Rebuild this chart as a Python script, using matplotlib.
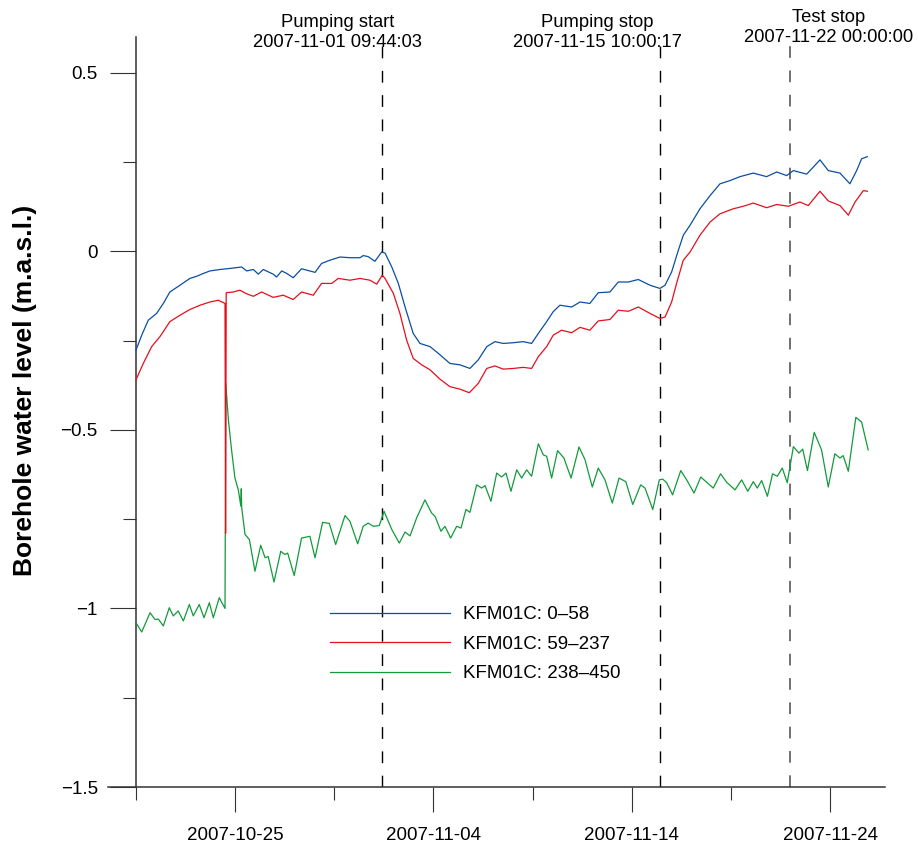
import matplotlib
matplotlib.use('Agg')
import matplotlib.pyplot as plt
import matplotlib.dates as mdates
import matplotlib.ticker as mticker
import matplotlib.transforms as mtransforms
import numpy as np
import pandas as pd

plt.rcParams['font.family'] = ['Liberation Sans', 'DejaVu Sans']

# time axis: days since 2007-10-20 00:00
t_start = pd.Timestamp('2007-10-20 00:00:00')

# KFM01C section 0-58
blue_days = [0.00, 0.29, 0.62, 1.04, 1.38, 1.71, 2.22, 2.72, 3.06, 3.31, 3.73, 4.24,
             4.74, 5.33, 5.58, 5.92, 6.17, 6.42, 6.92, 7.09, 7.35, 7.60, 7.93, 8.35,
             9.03, 9.36, 9.78, 10.29, 10.79, 11.30, 11.46, 11.71, 12.05, 12.39, 12.56,
             12.90, 13.23, 13.57, 13.98, 14.32, 14.83, 15.25, 15.83, 16.34, 16.84,
             17.26, 17.69, 18.10, 18.52, 19.03, 19.53, 19.95, 20.29, 20.71, 21.04,
             21.38, 21.97, 22.39, 22.89, 23.31, 23.90, 24.32, 24.83, 25.33, 25.92,
             26.42, 26.68, 27.01, 27.35, 27.60, 27.94, 28.44, 28.95, 29.45, 29.96,
             30.46, 31.13, 31.80, 32.31, 32.81, 33.15, 33.82, 34.16, 34.49, 34.91,
             35.50, 36.00, 36.34, 36.59, 36.88]
blue_level = [-0.277, -0.235, -0.193, -0.174, -0.146, -0.114, -0.095, -0.076, -0.070,
              -0.064, -0.055, -0.051, -0.048, -0.044, -0.055, -0.051, -0.064, -0.051,
              -0.064, -0.072, -0.055, -0.062, -0.074, -0.049, -0.059, -0.034, -0.025,
              -0.016, -0.018, -0.018, -0.012, -0.015, -0.028, -0.002, -0.005, -0.044,
              -0.090, -0.156, -0.230, -0.258, -0.267, -0.286, -0.314, -0.318, -0.328,
              -0.304, -0.267, -0.253, -0.258, -0.256, -0.253, -0.258, -0.230, -0.197,
              -0.169, -0.151, -0.156, -0.142, -0.146, -0.116, -0.114, -0.086, -0.086,
              -0.079, -0.095, -0.104, -0.095, -0.058, 0.003, 0.045, 0.073, 0.119,
              0.156, 0.189, 0.198, 0.209, 0.219, 0.209, 0.222, 0.212, 0.226, 0.216,
              0.236, 0.256, 0.226, 0.219, 0.189, 0.226, 0.259, 0.265]

# KFM01C section 59-237
red_days = [0.00, 0.37, 0.79, 1.21, 1.71, 2.22, 2.72, 3.23, 3.73, 4.15, 4.49, 4.52,
            4.55, 4.91, 5.24, 5.58, 5.92, 6.34, 6.92, 7.43, 7.93, 8.35, 8.94, 9.36,
            9.87, 10.20, 10.79, 11.30, 11.80, 12.14, 12.42, 12.56, 12.98, 13.31,
            13.65, 13.98, 14.41, 14.83, 15.33, 15.83, 16.34, 16.81, 17.26, 17.69,
            18.10, 18.52, 19.03, 19.53, 19.95, 20.29, 20.71, 21.04, 21.46, 21.97,
            22.39, 22.89, 23.31, 23.90, 24.32, 24.83, 25.33, 25.92, 26.42, 26.68,
            27.01, 27.26, 27.60, 27.94, 28.44, 28.95, 29.45, 30.12, 30.62, 31.13,
            31.80, 32.31, 32.90, 33.48, 33.90, 34.49, 34.91, 35.50, 35.92, 36.26,
            36.68, 36.88]
red_level = [-0.360, -0.314, -0.267, -0.239, -0.197, -0.179, -0.163, -0.151, -0.142,
             -0.137, -0.146, -0.790, -0.116, -0.114, -0.109, -0.119, -0.126, -0.114,
             -0.129, -0.123, -0.135, -0.114, -0.123, -0.090, -0.090, -0.076, -0.081,
             -0.076, -0.081, -0.092, -0.067, -0.076, -0.118, -0.174, -0.249, -0.300,
             -0.318, -0.332, -0.358, -0.379, -0.386, -0.396, -0.370, -0.328, -0.321,
             -0.330, -0.328, -0.325, -0.328, -0.295, -0.267, -0.235, -0.221, -0.228,
             -0.213, -0.221, -0.195, -0.191, -0.165, -0.168, -0.156, -0.174, -0.188,
             -0.184, -0.142, -0.090, -0.025, -0.002, 0.045, 0.082, 0.105, 0.119,
             0.126, 0.135, 0.122, 0.131, 0.126, 0.138, 0.128, 0.168, 0.141, 0.128,
             0.101, 0.138, 0.170, 0.168]

# KFM01C section 238-450
green_days = [0.00, 0.29, 0.71, 0.96, 1.13, 1.38, 1.68, 1.88, 2.13, 2.39, 2.69, 2.89,
              3.19, 3.43, 3.70, 3.90, 4.20, 4.49, 4.53, 4.66, 4.82, 4.99, 5.16, 5.29,
              5.31, 5.33, 5.50, 5.72, 6.00, 6.29, 6.51, 6.67, 6.96, 7.30, 7.51, 7.65,
              7.98, 8.35, 8.77, 9.03, 9.41, 9.75, 10.07, 10.54, 10.79, 11.18, 11.46,
              11.71, 11.97, 12.27, 12.51, 12.90, 13.28, 13.57, 13.82, 14.15, 14.57,
              14.91, 15.08, 15.38, 15.58, 15.87, 16.17, 16.39, 16.64, 16.84, 17.18,
              17.43, 17.60, 17.90, 18.19, 18.44, 18.66, 18.91, 19.20, 19.45, 19.70,
              19.95, 20.29, 20.54, 20.71, 20.96, 21.26, 21.58, 21.94, 22.34, 22.64,
              23.01, 23.31, 23.65, 24.02, 24.36, 24.70, 25.05, 25.45, 25.67, 26.06,
              26.39, 26.56, 26.76, 27.06, 27.47, 27.77, 28.14, 28.48, 28.74, 29.11,
              29.48, 29.79, 30.21, 30.54, 30.85, 31.13, 31.33, 31.55, 31.84, 32.10,
              32.34, 32.59, 32.84, 33.15, 33.43, 33.62, 33.86, 34.20, 34.57, 34.91,
              35.24, 35.50, 35.66, 35.92, 36.30, 36.59, 36.92]
green_level = [-1.040, -1.066, -1.012, -1.031, -1.030, -1.049, -0.998, -1.021, -1.007,
               -1.035, -0.989, -1.021, -0.989, -1.026, -0.984, -1.026, -0.970, -1.000,
               -0.370, -0.472, -0.556, -0.635, -0.668, -0.714, -0.665, -0.717, -0.793,
               -0.807, -0.896, -0.823, -0.858, -0.855, -0.926, -0.840, -0.849, -0.845,
               -0.908, -0.803, -0.798, -0.858, -0.759, -0.762, -0.821, -0.740, -0.756,
               -0.819, -0.770, -0.761, -0.770, -0.768, -0.728, -0.779, -0.817, -0.786,
               -0.797, -0.747, -0.696, -0.733, -0.742, -0.784, -0.770, -0.803, -0.770,
               -0.775, -0.723, -0.731, -0.654, -0.663, -0.656, -0.700, -0.621, -0.632,
               -0.621, -0.672, -0.612, -0.635, -0.612, -0.630, -0.539, -0.570, -0.574,
               -0.635, -0.558, -0.579, -0.635, -0.548, -0.583, -0.660, -0.607, -0.640,
               -0.705, -0.635, -0.645, -0.709, -0.654, -0.663, -0.723, -0.640, -0.638,
               -0.648, -0.682, -0.614, -0.640, -0.677, -0.632, -0.645, -0.663, -0.623,
               -0.647, -0.668, -0.640, -0.672, -0.645, -0.663, -0.642, -0.686, -0.623,
               -0.630, -0.607, -0.648, -0.547, -0.565, -0.554, -0.614, -0.507, -0.556,
               -0.660, -0.567, -0.579, -0.572, -0.616, -0.465, -0.478, -0.556]

series_labels = ['KFM01C: 0\u201358', 'KFM01C: 59\u2013237', 'KFM01C: 238\u2013450']
series_colors = ['#0b4ea2', '#e3101c', '#129a3b']

event_names = ['Pumping start', 'Pumping stop', 'Test stop']
event_times = ['2007-11-01 09:44:03', '2007-11-15 10:00:17', '2007-11-22 00:00:00']
# where the event captions sit (centre of text, top edge in figure fraction)
caption_x = ['2007-10-30 03:30', '2007-11-12 06:00', '2007-11-23 22:00']
caption_y = [1 - 14 / 846, 1 - 14 / 846, 1 - 9 / 846]

major_dates = ['2007-10-25', '2007-11-04', '2007-11-14', '2007-11-24']
minor_dates = ['2007-10-20', '2007-10-30', '2007-11-09', '2007-11-19']


def to_time(days):
    return t_start + pd.to_timedelta(np.array(days), unit='D')


fig = plt.figure(figsize=(9.18, 8.46), dpi=100)
ax = fig.add_axes([108 / 918, 59 / 846, 777 / 918, 750 / 846])

data = [(blue_days, blue_level), (red_days, red_level), (green_days, green_level)]
zorders = [4, 4, 3]
for (d, v), lab, col, z in zip(data, series_labels, series_colors, zorders):
    ax.plot(to_time(d), v, color=col, lw=0.9, label=lab, zorder=z)

# event lines and captions
cap_trans = mtransforms.blended_transform_factory(ax.transData, fig.transFigure)
for i, (name, tstr) in enumerate(zip(event_names, event_times)):
    t = pd.Timestamp(tstr)
    if i < 2:
        ax.plot([t, t], [-1.5, 0.575], color='black', lw=1.0, dashes=(8.5, 9), zorder=2)
    else:
        ax.plot([t, t], [-1.5, 0.575], color='#707070', lw=1.4, dashes=(6, 6.5), zorder=2)
    ax.text(pd.Timestamp(caption_x[i]), caption_y[i], name + '\n' + tstr,
            transform=cap_trans, ha='center', va='top', fontsize=13.2, linespacing=1.2)

ax.set_xlim(t_start - pd.Timedelta(days=1.41), t_start + pd.Timedelta(days=37.77))
ax.set_ylim(-1.5, 0.6)

ax.spines['top'].set_visible(False)
ax.spines['right'].set_visible(False)
ax.spines['left'].set_position(('data', mdates.date2num(t_start)))
for s in ['left', 'bottom']:
    ax.spines[s].set_color('#333333')
    ax.spines[s].set_linewidth(1.1)

ax.xaxis.set_major_locator(mticker.FixedLocator(mdates.date2num(pd.to_datetime(major_dates))))
ax.xaxis.set_minor_locator(mticker.FixedLocator(mdates.date2num(pd.to_datetime(minor_dates))))
ax.xaxis.set_major_formatter(mdates.DateFormatter('%Y-%m-%d'))
ax.yaxis.set_major_locator(mticker.MultipleLocator(0.5))
ax.yaxis.set_minor_locator(mticker.MultipleLocator(0.25))
ax.yaxis.set_major_formatter(mticker.FuncFormatter(
    lambda v, p: ('\u2212' if v < 0 else '') + ('%g' % abs(v))))

ax.tick_params(axis='x', which='major', length=18, width=0.8, color='#333333',
               labelsize=13.5, pad=10.5)
ax.tick_params(axis='x', which='minor', length=9, width=0.8, color='#333333')
ax.tick_params(axis='y', which='major', length=18.5, width=0.8, color='#333333',
               labelsize=13.5, pad=9)
ax.tick_params(axis='y', which='minor', length=9.3, width=0.8, color='#333333')

fig.text(25 / 918, 1 - 390 / 846, 'Borehole water level (m.a.s.l.)', rotation=90,
         ha='center', va='center', fontsize=19, fontweight='bold')

ax.legend(loc='upper left', bbox_to_anchor=(0.2857, 0.241), frameon=False,
          fontsize=13.5, handlelength=6.4, handletextpad=0.7, labelspacing=0.66,
          borderpad=0, borderaxespad=0)

fig.savefig('out.png', dpi=100)
